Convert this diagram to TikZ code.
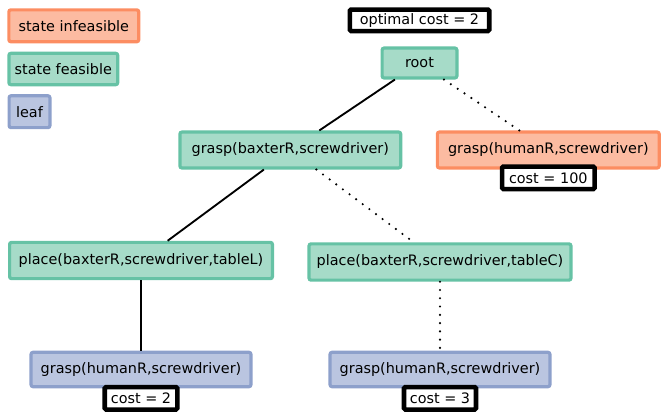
\documentclass[tikz,border=0pt]{standalone}
\usepackage{fontspec}
\setmainfont{DejaVu Sans}
\usepackage{tikz}
\usepackage{xcolor}
\definecolor{infeasdraw}{HTML}{FC8D62}
\definecolor{infeasfill}{HTML}{FCBBA1}
\definecolor{feasdraw}{HTML}{66C2A5}
\definecolor{feasfill}{HTML}{A6DBC8}
\definecolor{leafdraw}{HTML}{8DA0CB}
\definecolor{leaffill}{HTML}{BAC5E0}

\begin{document}
\begin{tikzpicture}
    [x=0.75pt,y=-0.75pt,
    font=\fontsize{10.8}{13}\selectfont,
    state/.style={draw,line width=2.4pt,rounded corners=1.5pt,inner sep=0pt,minimum height=26.9pt},
    infeasible/.style={state,draw=infeasdraw,fill=infeasfill},
    feasible/.style={state,draw=feasdraw,fill=feasfill},
    leaf/.style={state,draw=leafdraw,fill=leaffill},
    cost/.style={draw,fill=white,line width=3.4pt,rounded corners=1pt,inner sep=0pt,minimum height=16.9pt},
    taken/.style={line width=1.4pt},
    pruned/.style={line width=1.8pt,line cap=round,dash pattern=on 0pt off 6.2pt}]
\useasboundingbox (0,0) rectangle (661,411);
\path
    (73.8,25.8) node [infeasible,minimum width=97.4pt,minimum height=23.9pt] (infeaskey) {state infeasible}
    (63.3,69) node [feasible,minimum width=81.6pt,minimum height=23.5pt] (feaskey) {state feasible}
    (29.5,111.7) node [leaf,minimum width=30.6pt,minimum height=23.9pt] (leafkey) {leaf};
\path
    (419.5,63) node [feasible,minimum width=56.1pt,minimum height=22.4pt] (root) {root}
    (290.3,150) node [feasible,minimum width=165.6pt] (graspB) {grasp(baxterR,screwdriver)}
    (548.3,150) node [infeasible,minimum width=166.4pt] (graspH) {grasp(humanR,screwdriver)}
    (141,260.5) node [feasible,minimum width=197.1pt,minimum height=27.2pt] (placeL) {place(baxterR,screwdriver,tableL)}
    (440,262) node [feasible,minimum width=196.4pt,minimum height=27.2pt] (placeC) {place(baxterR,screwdriver,tableC)}
    (141,369.5) node [leaf,minimum width=164.9pt,minimum height=25.8pt] (leafL) {grasp(humanR,screwdriver)}
    (440,369.5) node [leaf,minimum width=164.9pt,minimum height=25.8pt] (leafC) {grasp(humanR,screwdriver)};
\draw [taken] (root) -- (graspB);
\draw [pruned] (root) -- (graspH);
\draw [taken] (graspB) -- (placeL);
\draw [pruned] (graspB) -- (placeC);
\draw [taken] (placeL) -- (leafL);
\draw [pruned] (placeC) -- (leafC);
\path
    (419.5,20.3) node [cost,minimum width=104.6pt,minimum height=16.1pt] (optimal) {optimal cost = 2}
    (graspH.south) +(0,8.3) node [cost,minimum width=69.4pt] (cost100) {cost = 100}
    (leafL.south) +(0,10) node [cost,minimum width=54.4pt] (costL) {cost = 2}
    (leafC.south) +(0,10) node [cost,minimum width=54pt] (costC) {cost = 3};
\end{tikzpicture}
\end{document}
